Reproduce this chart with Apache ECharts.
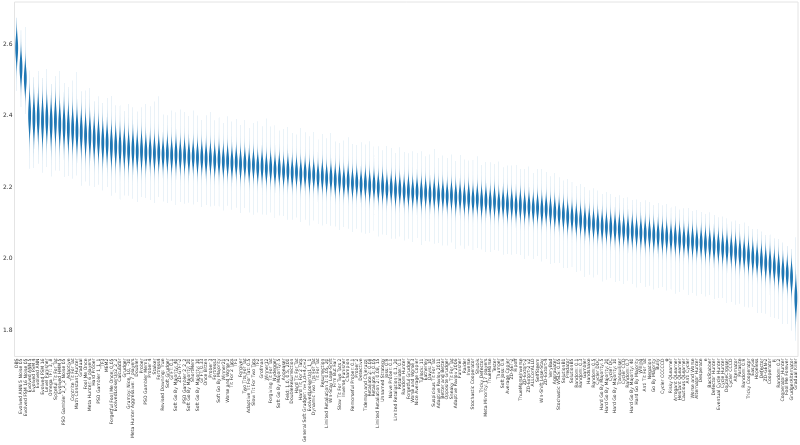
<!DOCTYPE html>
<html><head><meta charset="utf-8">
<script src="https://cdn.jsdelivr.net/npm/echarts@6/dist/echarts.min.js"></script>
<style>html,body{margin:0;padding:0;background:#fff}#c{width:800px;height:445px}</style>
</head><body><div id="c"></div>
<script>
const strategies = [
"DBS","Evolved ANN 5 Noise 05","Evolved FSM 16 Noise 05","Evolved ANN 5","Evolved FSM 4","Evolved ANN","Evolved FSM 16","Level Punisher","Omega TFT: 3, 8","Spiteful Tit For Tat",
"Evolved HMM 5","PSO Gambler 2_2_2 Noise 05","Adaptive","Contrite Tit For Tat","Math Constant Hunter","Gradual","Fool Me Once","Meta Hunter: 6 players","Hard Prober","PSO Gambler 1_1_1",
"TF3","MEM2","Forgetful Fool Me Once: 0.05","EvolvedLookerUp2_2_2","Calculator","Grudger","Grumpy: Nice, 10, -10","Meta Hunter Aggressive: 7 players","Doubler","Prober",
"PSO Gambler Mem1","Prober 4","Stalker","Fortress4","Revised Downing: True","Soft Grudger","GTFT: 0.1","Soft Go By Majority: 40","ZD-GTFT-2","PSO Gambler 2_2_2",
"Soft Go By Majority: 20","ShortMem","Soft Go By Majority: 10","GTFT: 0.33","Once Bitten","Prober 3","Fortress3","Soft Go By Majority","Winner21","Worse and Worse 2",
"Tit For 2 Tats","TF1","Forgiver","Two Tits For Tat","Adaptive Tit For Tat: 0.5","Slow Tit For Two Tats","TF2","Grofman","Winner12","Forgiving Tit For Tat",
"Nydegger","Soft Go By Majority: 5","Appeaser","Feld: 1.0, 0.5, 200","DoubleResurrection","Hard Tit For Tat","Hard Tit For 2 Tats","General Soft Grudger: n=1,d=4,c=2","EvolvedLookerUp1_1_1","Dynamic Two Tits For Tat",
"Tit For Tat","Resurrection","Limited Retaliation 3: 0.05, 20","Win-Stay Lose-Shift","Firm But Fair","Slow Tit For Two Tats 2","Inverse Punisher","Champion","Remorseful Prober: 0.1","Prober 2",
"Detective","Tideman and Chieruzzi","Retaliate 2: 0.08","Retaliate 3: 0.05","Limited Retaliation 2: 0.08, 15","Unnamed Strategy","Joss: 0.9","Naive Prober: 0.1","Limited Retaliation: 0.1, 20","Retaliate: 0.1",
"Random Hunter","Forgetful Grudger","Worse and Worse 3","Nice Average Copier","Tullock: 11","Eatherley","Davis: 10","Suspicious Tit For Tat","Adaptive Pavlov 2011","Better and Better",
"Opposite Grudger","Sneaky Tit For Tat","Adaptive Pavlov 2006","Punisher","Raider","Inverse","Stochastic Cooperator","Shubik","Tricky Defector","Meta Minority: 17 players",
"ThueMorse","Tester","Thumper","Soft Joss: 0.9","Average Copier","ZD-SET-2","Ripoff","ThueMorseInverse","ZD-Extort-2","ZD-Extort-2 v2",
"ALLCorALLD","SelfSteem","Win-Shift Lose-Stay","ZD-Extort-4","VeryBad","Aggravater","Stochastic WSLS: 0.05","SolutionB1","Predator","SolutionB5",
"Random: 0.1","Random: 0.3","Gambler","Handshake","Random: 0.5","Cycler DDC","Hard Go By Majority: 5","Hard Go By Majority: 20","Cycler DC","Hard Go By Majority: 10",
"Tranquiliser","Cycler CCD","Random: 0.7","Hard Go By Majority: 40","Hard Go By Majority","Willing","Anti Tit For Tat","Negation","Go By Majority","Bully",
"Cycler CCCCCD","φ","Risky QLearner","Arrogant QLearner","Hesitant QLearner","Cautious QLearner","Anti Cycler","Worse and Worse","Alternator Hunter","Desperate",
"e","BackStabber","Defector Hunter","Eventual Cycle Hunter","Cycle Hunter","DoubleCrosser","Cycler CCCD","Alternator","Parasite","Random: 0.9",
"Tricky Cooperator","EasyGo","Hopeless","Defector","ZD-GEN-2","Cooperator","Pi","Random: 0.2","Cooperator Hunter","Fool Me Forever",
"GrudgerAlternator","Gradual Killer"
];

const medians = [
2.590,2.535,2.505,2.402,2.393,2.396,2.386,2.391,2.380,2.387,
2.376,2.373,2.366,2.364,2.358,2.354,2.346,2.344,2.336,2.335,
2.326,2.325,2.316,2.315,2.310,2.309,2.304,2.306,2.300,2.302,
2.298,2.299,2.295,2.297,2.292,2.294,2.290,2.292,2.288,2.289,
2.285,2.287,2.283,2.284,2.280,2.281,2.276,2.278,2.273,2.274,
2.269,2.271,2.265,2.267,2.261,2.263,2.257,2.259,2.253,2.255,
2.249,2.251,2.245,2.247,2.241,2.243,2.237,2.239,2.233,2.235,
2.229,2.231,2.225,2.227,2.220,2.222,2.216,2.218,2.212,2.214,
2.208,2.210,2.204,2.206,2.200,2.202,2.196,2.198,2.192,2.194,
2.189,2.190,2.186,2.188,2.183,2.185,2.180,2.182,2.178,2.179,
2.175,2.177,2.172,2.173,2.168,2.170,2.165,2.167,2.161,2.163,
2.158,2.160,2.154,2.156,2.151,2.153,2.148,2.150,2.145,2.146,
2.141,2.143,2.137,2.139,2.133,2.130,2.126,2.123,2.118,2.116,
2.110,2.108,2.103,2.100,2.097,2.095,2.091,2.089,2.087,2.085,
2.082,2.081,2.078,2.077,2.074,2.073,2.070,2.069,2.066,2.065,
2.062,2.061,2.058,2.057,2.054,2.053,2.050,2.049,2.046,2.045,
2.042,2.040,2.036,2.034,2.030,2.028,2.024,2.021,2.016,2.013,
2.008,2.004,1.998,1.994,1.988,1.984,1.977,1.971,1.963,1.958,
1.948,1.890
];

const spreads = [
0.030,0.030,0.028,0.036,0.036,0.035,0.036,0.034,0.035,0.034,
0.033,0.034,0.033,0.032,0.033,0.032,0.031,0.032,0.031,0.030,
0.031,0.030,0.030,0.029,0.030,0.029,0.028,0.029,0.028,0.028,
0.026,0.025,0.026,0.025,0.024,0.025,0.024,0.025,0.024,0.024,
0.024,0.023,0.024,0.023,0.024,0.023,0.023,0.024,0.023,0.023,
0.023,0.022,0.023,0.022,0.023,0.022,0.022,0.023,0.022,0.022,
0.022,0.022,0.021,0.022,0.022,0.021,0.022,0.021,0.022,0.021,
0.021,0.022,0.021,0.021,0.022,0.021,0.021,0.022,0.021,0.021,
0.021,0.021,0.022,0.021,0.021,0.022,0.021,0.021,0.022,0.021,
0.021,0.022,0.021,0.021,0.022,0.021,0.021,0.022,0.021,0.021,
0.021,0.021,0.022,0.021,0.021,0.022,0.021,0.021,0.022,0.021,
0.021,0.022,0.021,0.021,0.022,0.021,0.021,0.022,0.021,0.021,
0.021,0.021,0.022,0.021,0.021,0.022,0.021,0.022,0.022,0.021,
0.022,0.021,0.022,0.022,0.021,0.022,0.022,0.021,0.022,0.022,
0.022,0.021,0.022,0.022,0.021,0.022,0.022,0.021,0.022,0.022,
0.022,0.022,0.021,0.022,0.022,0.021,0.022,0.022,0.021,0.022,
0.022,0.022,0.023,0.022,0.022,0.023,0.022,0.023,0.023,0.022,
0.023,0.023,0.022,0.023,0.023,0.024,0.023,0.024,0.024,0.024,
0.025,0.032
];

const tailUp = [
0.085,0.105,0.145,0.125,0.115,0.130,0.120,0.140,0.110,0.125,
0.150,0.120,0.115,0.135,0.165,0.115,0.125,0.135,0.105,0.120,
0.110,0.125,0.140,0.115,0.120,0.105,0.130,0.118,0.112,0.122,
0.135,0.128,0.145,0.158,0.112,0.108,0.125,0.118,0.130,0.122,
0.115,0.128,0.118,0.105,0.122,0.130,0.112,0.118,0.108,0.125,
0.115,0.120,0.110,0.122,0.105,0.118,0.128,0.112,0.140,0.115,
0.125,0.108,0.118,0.122,0.112,0.105,0.130,0.115,0.110,0.120,
0.105,0.118,0.112,0.125,0.108,0.102,0.115,0.122,0.110,0.105,
0.118,0.110,0.125,0.108,0.115,0.102,0.120,0.112,0.105,0.118,
0.110,0.105,0.115,0.108,0.118,0.102,0.112,0.125,0.105,0.110,
0.108,0.115,0.102,0.118,0.110,0.105,0.112,0.120,0.102,0.108,
0.112,0.105,0.118,0.100,0.110,0.108,0.115,0.102,0.106,0.112,
0.100,0.108,0.115,0.104,0.098,0.110,0.102,0.096,0.105,0.100,
0.094,0.102,0.098,0.092,0.100,0.096,0.090,0.098,0.094,0.088,
0.096,0.090,0.094,0.088,0.092,0.086,0.094,0.090,0.085,0.092,
0.088,0.092,0.086,0.090,0.084,0.088,0.092,0.085,0.090,0.086,
0.084,0.090,0.086,0.082,0.088,0.085,0.080,0.086,0.082,0.088,
0.084,0.080,0.086,0.082,0.078,0.084,0.080,0.085,0.082,0.078,
0.080,0.170
];

const tailDown = [
0.120,0.110,0.100,0.150,0.140,0.130,0.145,0.135,0.150,0.140,
0.130,0.145,0.135,0.140,0.125,0.150,0.130,0.140,0.135,0.128,
0.135,0.125,0.140,0.130,0.145,0.132,0.128,0.138,0.142,0.130,
0.128,0.135,0.140,0.125,0.132,0.138,0.128,0.142,0.130,0.135,
0.128,0.135,0.125,0.140,0.130,0.135,0.128,0.132,0.138,0.126,
0.132,0.128,0.138,0.125,0.132,0.140,0.128,0.135,0.130,0.126,
0.135,0.130,0.126,0.138,0.132,0.128,0.135,0.130,0.140,0.128,
0.132,0.138,0.128,0.135,0.130,0.142,0.128,0.134,0.138,0.130,
0.135,0.140,0.132,0.128,0.138,0.134,0.130,0.142,0.136,0.132,
0.138,0.134,0.140,0.130,0.145,0.136,0.132,0.140,0.135,0.142,
0.138,0.132,0.145,0.136,0.140,0.134,0.142,0.138,0.135,0.145,
0.140,0.136,0.132,0.145,0.138,0.142,0.135,0.140,0.146,0.138,
0.142,0.136,0.145,0.140,0.148,0.142,0.138,0.150,0.145,0.140,
0.148,0.142,0.155,0.145,0.150,0.140,0.155,0.148,0.142,0.150,
0.145,0.152,0.140,0.148,0.155,0.142,0.150,0.145,0.152,0.148,
0.142,0.150,0.145,0.155,0.148,0.140,0.152,0.146,0.150,0.144,
0.148,0.142,0.150,0.145,0.140,0.152,0.146,0.150,0.142,0.148,
0.145,0.140,0.150,0.146,0.142,0.148,0.144,0.140,0.146,0.142,
0.150,0.120
];

const yTicks = [1.8, 2.0, 2.2, 2.4, 2.6];

const violinData = strategies.map((s, i) => [i, medians[i], spreads[i], tailUp[i], tailDown[i]]);

function renderViolin(params, api) {
  const i = api.value(0), m = api.value(1), s = api.value(2), up = api.value(3), dn = api.value(4);
  const bw = api.size([1, 0])[0];
  const W = bw * 0.32, base = bw * 0.011;
  const lo = m - dn, hi = m + up;
  const N = 100;
  const cx = api.coord([i, m])[0];
  const left = [], right = [];
  for (let k = 0; k <= N; k++) {
    const y = lo + (hi - lo) * k / N;
    const z = (y - m) / s;
    const w = W * Math.exp(-0.5 * z * z) + base;
    const py = api.coord([i, y])[1];
    left.push([cx - w, py]);
    right.push([cx + w, py]);
  }
  return { type: 'polygon', shape: { points: left.concat(right.reverse()) }, style: { fill: '#1f77b4' } };
}

const chart = echarts.init(document.getElementById('c'), null, { renderer: 'canvas' });
chart.setOption({
  animation: false,
  backgroundColor: '#ffffff',
  grid: { left: 11, right: 2, top: 2, bottom: 84, show: true, borderColor: '#e4e4e4', borderWidth: 1, backgroundColor: 'transparent' },
  xAxis: {
    type: 'category', data: strategies, boundaryGap: true,
    axisLine: { show: false }, axisTick: { show: false }, splitLine: { show: false },
    axisLabel: { interval: 0, rotate: 90, fontSize: 4.6, margin: 2, color: '#333', fontFamily: 'DejaVu Sans' }
  },
  yAxis: {
    type: 'value', min: 1.726, max: 2.719,
    axisLine: { show: false }, axisTick: { show: false }, splitLine: { show: false },
    axisLabel: { customValues: yTicks, formatter: v => v.toFixed(1), fontSize: 6, margin: 2, color: '#333', fontFamily: 'DejaVu Sans' }
  },
  series: [{ type: 'custom', renderItem: renderViolin, data: violinData, encode: { x: 0, y: 1 }, clip: true }]
});
</script>
</body></html>
